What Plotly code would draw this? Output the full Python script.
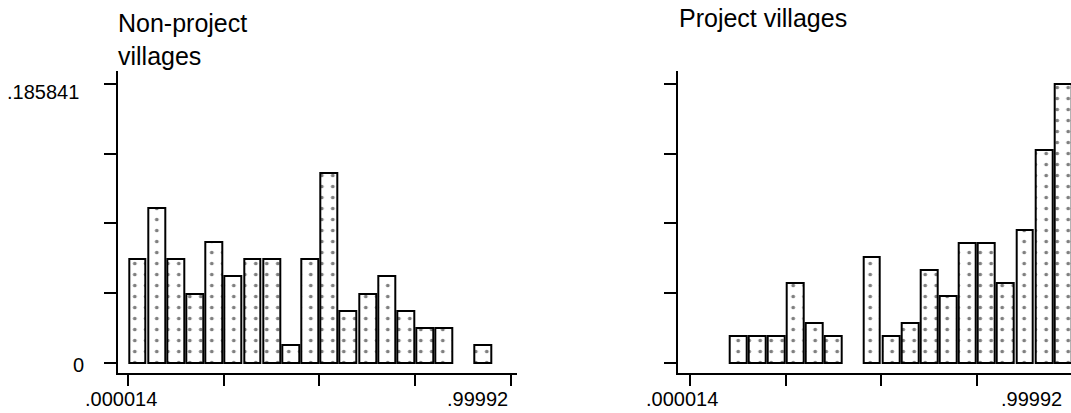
import plotly.graph_objects as go

# ---- data ----
bin_centers = [0.025, 0.075, 0.125, 0.175, 0.225, 0.275, 0.325, 0.375, 0.425, 0.475,
               0.525, 0.575, 0.625, 0.675, 0.725, 0.775, 0.825, 0.875, 0.925, 0.975]

nonproject_fraction = [0.0690, 0.1034, 0.0690, 0.0460, 0.0805, 0.0575, 0.0690, 0.0690, 0.0115, 0.0690,
                       0.1264, 0.0345, 0.0460, 0.0575, 0.0345, 0.0230, 0.0230, 0.0, 0.0115, 0.0]

project_fraction = [0.0, 0.0, 0.0177, 0.0177, 0.0177, 0.0531, 0.0265, 0.0177, 0.0, 0.0708,
                    0.0177, 0.0265, 0.0619, 0.0442, 0.0796, 0.0796, 0.0531, 0.0885, 0.1416, 0.1858]

titles = ["Non-project<br>villages", "Project villages"]

y_tickvals = [0, 0.04646, 0.09292, 0.13938, 0.185841]
y_label_text = ["0", ".185841"]

x_tickvals = [0.000014, 0.25, 0.5, 0.75, 0.99992]
x_label_vals = [0.000014, 0.99992]
x_label_text = [".000014", ".99992"]

FONT = "Liberation Sans, Arial, sans-serif"
W, H = 1071, 413


def fx(page_x):
    return page_x / W


def fy(page_y):
    return 1 - page_y / H


fig = go.Figure()

bar_style = dict(
    color="white",
    line=dict(color="black", width=2),
    pattern=dict(shape=".", fgcolor="black", bgcolor="white", size=11, solidity=0.09),
)

for vals, xa, ya in [(nonproject_fraction, "x", "y"), (project_fraction, "x2", "y2")]:
    fig.add_trace(go.Bar(
        x=bin_centers,
        y=[v if v > 0 else None for v in vals],
        width=0.044,
        marker=bar_style,
        xaxis=xa, yaxis=ya,
        hoverinfo="skip",
    ))

ydom = [fy(373.3), fy(71)]
common_y = dict(
    range=[-0.00707, 0.19451], domain=ydom,
    showline=True, linecolor="black", linewidth=2,
    ticks="outside", ticklen=12, tickwidth=2, tickcolor="black",
    tickvals=y_tickvals, showticklabels=False,
    showgrid=False, zeroline=False,
)
common_x = dict(
    showline=True, linecolor="black", linewidth=2,
    ticks="outside", ticklen=11, tickwidth=2, tickcolor="black",
    tickvals=x_tickvals, showticklabels=False,
    showgrid=False, zeroline=False,
)

fig.update_layout(
    width=W, height=H, autosize=False,
    margin=dict(l=0, r=0, t=0, b=0),
    paper_bgcolor="white", plot_bgcolor="white",
    showlegend=False, bargap=0,
    xaxis=dict(domain=[fx(118.3), fx(517)], range=[-0.0245, 1.0151], anchor="y", **common_x),
    yaxis=dict(anchor="x", **common_y),
    xaxis2=dict(domain=[fx(677.7), 1.0], range=[-0.03235, 0.996], anchor="y2", **common_x),
    yaxis2=dict(anchor="x2", **common_y),
)

tfont = dict(family=FONT, size=25, color="black")
lfont = dict(family=FONT, size=20, color="black")
annotations = []
# panel titles
annotations.append(dict(text=titles[0], x=fx(116), y=fy(7), xref="paper", yref="paper",
                        xanchor="left", yanchor="top", align="left", showarrow=False, font=tfont))
annotations.append(dict(text=titles[1], x=fx(677), y=fy(2), xref="paper", yref="paper",
                        xanchor="left", yanchor="top", align="left", showarrow=False, font=tfont))
# y tick labels (left panel only)
annotations.append(dict(text=y_label_text[0], x=fx(86), y=fy(365), xref="paper", yref="paper",
                        xanchor="right", yanchor="middle", showarrow=False, font=lfont))
annotations.append(dict(text=y_label_text[1], x=fx(81), y=fy(92), xref="paper", yref="paper",
                        xanchor="right", yanchor="middle", showarrow=False, font=lfont))
# x tick labels
label_y = fy(399)
# left panel: tied to the x axis
annotations.append(dict(text=x_label_text[0], x=x_label_vals[0], xref="x", y=label_y, yref="paper",
                        xanchor="center", yanchor="middle", xshift=-7, showarrow=False, font=lfont))
annotations.append(dict(text=x_label_text[1], x=x_label_vals[1], xref="x", y=label_y, yref="paper",
                        xanchor="right", yanchor="middle", xshift=-1, showarrow=False, font=lfont))
# right panel: axis runs past the window edge, so the end label sits at the edge
annotations.append(dict(text=x_label_text[0], x=x_label_vals[0], xref="x2", y=label_y, yref="paper",
                        xanchor="center", yanchor="middle", xshift=-8, showarrow=False, font=lfont))
annotations.append(dict(text=x_label_text[1], x=fx(1064), xref="paper", y=label_y, yref="paper",
                        xanchor="right", yanchor="middle", showarrow=False, font=lfont))
fig.update_layout(annotations=annotations)

# remove the default 8px page margin so the figure fills the window exactly
fig.write_html(
    "out.html",
    config={"displayModeBar": False},
    post_script="document.body.style.margin='0';document.body.style.overflow='hidden';",
)
